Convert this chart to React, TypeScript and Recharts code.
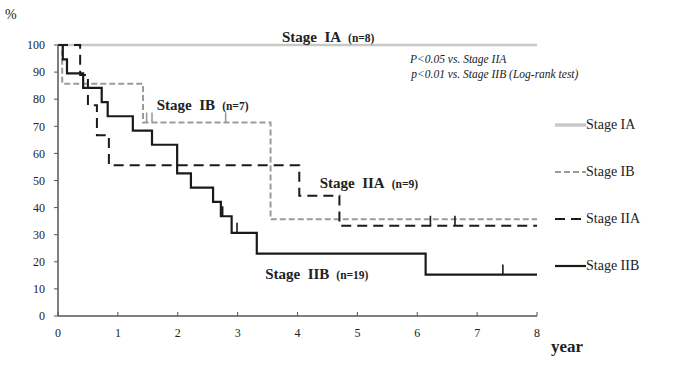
import React from 'react';
import { LineChart, Line, XAxis, YAxis, Legend, ReferenceDot } from 'recharts';

// Kaplan-Meier steps: t = years, s = % surviving, c = censored
const iaTime = [0, 8];
const iaSurv = [100, 100];
const iaCens = [0, 0];

const ibTime = [0, 0.07, 1.42, 1.48, 1.57, 2.8, 3.55, 8];
const ibSurv = [100, 85.7, 71.4, 71.4, 71.4, 71.4, 35.7, 35.7];
const ibCens = [0, 0, 0, 1, 1, 1, 0, 0];

const iiaTime = [0, 0.37, 0.5, 0.65, 0.85, 4.03, 4.7, 6.22, 6.63, 8];
const iiaSurv = [100, 88.9, 77.8, 66.7, 55.6, 44.4, 33.3, 33.3, 33.3, 33.3];
const iiaCens = [0, 0, 0, 0, 0, 0, 0, 1, 1, 0];

const iibTime = [0, 0.08, 0.15, 0.42, 0.73, 0.83, 1.25, 1.57, 1.99, 2.22, 2.59, 2.72, 2.75, 2.9, 2.99, 3.32, 6.14, 7.43, 8];
const iibSurv = [100, 94.7, 89.5, 84.2, 78.9, 73.7, 68.4, 63.2, 52.6, 47.4, 42.1, 36.8, 36.8, 30.7, 30.7, 23.0, 15.3, 15.3, 15.3];
const iibCens = [0, 0, 0, 0, 0, 0, 0, 0, 0, 0, 0, 0, 1, 0, 1, 0, 0, 1, 0];

const xTicks = [0, 1, 2, 3, 4, 5, 6, 7, 8];
const yTicks = [0, 10, 20, 30, 40, 50, 60, 70, 80, 90, 100];

const build = (t: number[], s: number[], c: number[]) => t.map((v, i) => ({ t: v, s: s[i], c: c[i] }));

const series = [
  { name: 'Stage IA', data: build(iaTime, iaSurv, iaCens), color: '#c8c8c8', dash: undefined, width: 2.5 },
  { name: 'Stage IB', data: build(ibTime, ibSurv, ibCens), color: '#9b9b9b', dash: '6 3', width: 2 },
  { name: 'Stage IIA', data: build(iiaTime, iiaSurv, iiaCens), color: '#1a1a1a', dash: '10 6', width: 2 },
  { name: 'Stage IIB', data: build(iibTime, iibSurv, iibCens), color: '#1a1a1a', dash: undefined, width: 2.2 },
];

// labels placed in data coordinates
const stageLabels = [
  { t: 3.74, s: 101.2, main: 'Stage\u00a0\u00a0IA', n: '(n=8)' },
  { t: 1.65, s: 76.0, main: 'Stage\u00a0\u00a0IB', n: '(n=7)' },
  { t: 4.37, s: 47.2, main: 'Stage\u00a0\u00a0IIA', n: '(n=9)' },
  { t: 3.46, s: 13.6, main: 'Stage\u00a0\u00a0IIB', n: '(n=19)' },
];
const noteLines = [
  { t: 5.88, s: 93.4, text: 'P<0.05 vs. Stage IIA' },
  { t: 5.9, s: 88.0, text: 'p<0.01 vs. Stage IIB (Log-rank test)' },
];

const serif = '"Liberation Serif", "Times New Roman", serif';

const censorDot = (color: string) => (p: any) => {
  if (!p.payload || !p.payload.c) return <g key={p.key ?? p.index} />;
  return <line key={p.key ?? p.index} x1={p.cx} x2={p.cx} y1={p.cy - 10} y2={p.cy} stroke={color} strokeWidth={1.6} />;
};

const renderLegend = () => (
  <div style={{ fontFamily: serif, fontSize: 14, color: '#222' }}>
    {series.map((s) => (
      <div key={s.name} style={{ display: 'flex', alignItems: 'center', height: 47 }}>
        <svg width={31} height={6}>
          <line x1={0} x2={31} y1={3} y2={3} stroke={s.color} strokeWidth={s.name === 'Stage IA' ? 3.5 : 2.2} strokeDasharray={s.dash} />
        </svg>
        <span style={{ fontFamily: serif }}>{s.name}</span>
      </div>
    ))}
  </div>
);

export default function App() {
  return (
    <div style={{ position: 'absolute', left: 0, top: 0, width: 700, height: 375, background: '#fff', fontFamily: serif }}>
      <LineChart width={700} height={375} margin={{ top: 45, right: 163, bottom: 29, left: 0 }} style={{ fontFamily: serif }}>
        <XAxis
          dataKey="t"
          type="number"
          domain={[0, 8]}
          ticks={xTicks}
          allowDuplicatedCategory={false}
          axisLine={{ stroke: '#555', strokeWidth: 1.5 }}
          tickLine={{ stroke: '#555' }}
          tickSize={-4}
          tickMargin={16}
          tick={{ fill: '#222', fontSize: 12, fontFamily: serif }}
          fontFamily={serif}
          height={30}
          label={{
            content: (props: any) => {
              const vb = props.viewBox;
              return (
                <text x={vb.x + vb.width + 14} y={vb.y + 36} fontFamily={serif} fontSize={17} fontWeight="bold" fill="#222">
                  year
                </text>
              );
            },
          }}
        />
        <YAxis
          type="number"
          domain={[0, 100]}
          ticks={yTicks}
          width={58}
          axisLine={{ stroke: '#555', strokeWidth: 1.5 }}
          tickLine={{ stroke: '#555' }}
          tickSize={4}
          tickMargin={9}
          tick={{ fill: '#222', fontSize: 12, fontFamily: serif }}
          fontFamily={serif}
          label={{
            content: (props: any) => {
              const vb = props.viewBox;
              return (
                <text x={vb.x + 5} y={vb.y - 26} fontFamily={serif} fontSize={14} fill="#222">
                  %
                </text>
              );
            },
          }}
        />
        {series.map((s) => (
          <Line
            key={s.name}
            data={s.data}
            dataKey="s"
            name={s.name}
            type="stepAfter"
            stroke={s.color}
            strokeWidth={s.width}
            strokeDasharray={s.dash}
            dot={censorDot(s.color)}
            activeDot={false}
            isAnimationActive={false}
            legendType="line"
          />
        ))}
        {stageLabels.map((l) => (
          <ReferenceDot
            key={l.main}
            x={l.t}
            y={l.s}
            r={0}
            ifOverflow="visible"
            shape={(p: any) => (
              <text x={p.cx} y={p.cy} fontFamily={serif} fontWeight="bold" fill="#222">
                <tspan fontSize={15}>{l.main}</tspan>
                <tspan fontSize={11.5} dx={7}>{l.n}</tspan>
              </text>
            )}
          />
        ))}
        {noteLines.map((l) => (
          <ReferenceDot
            key={l.text}
            x={l.t}
            y={l.s}
            r={0}
            ifOverflow="visible"
            shape={(p: any) => (
              <text x={p.cx} y={p.cy} fontFamily={serif} fontStyle="italic" fontSize={11.5} fill="#222">
                {l.text}
              </text>
            )}
          />
        ))}
        <Legend
          layout="vertical"
          align="center"
          verticalAlign="middle"
          content={renderLegend}
          wrapperStyle={{ position: 'absolute', left: 555, top: 101, width: 140, fontFamily: serif }}
        />
      </LineChart>
    </div>
  );
}
